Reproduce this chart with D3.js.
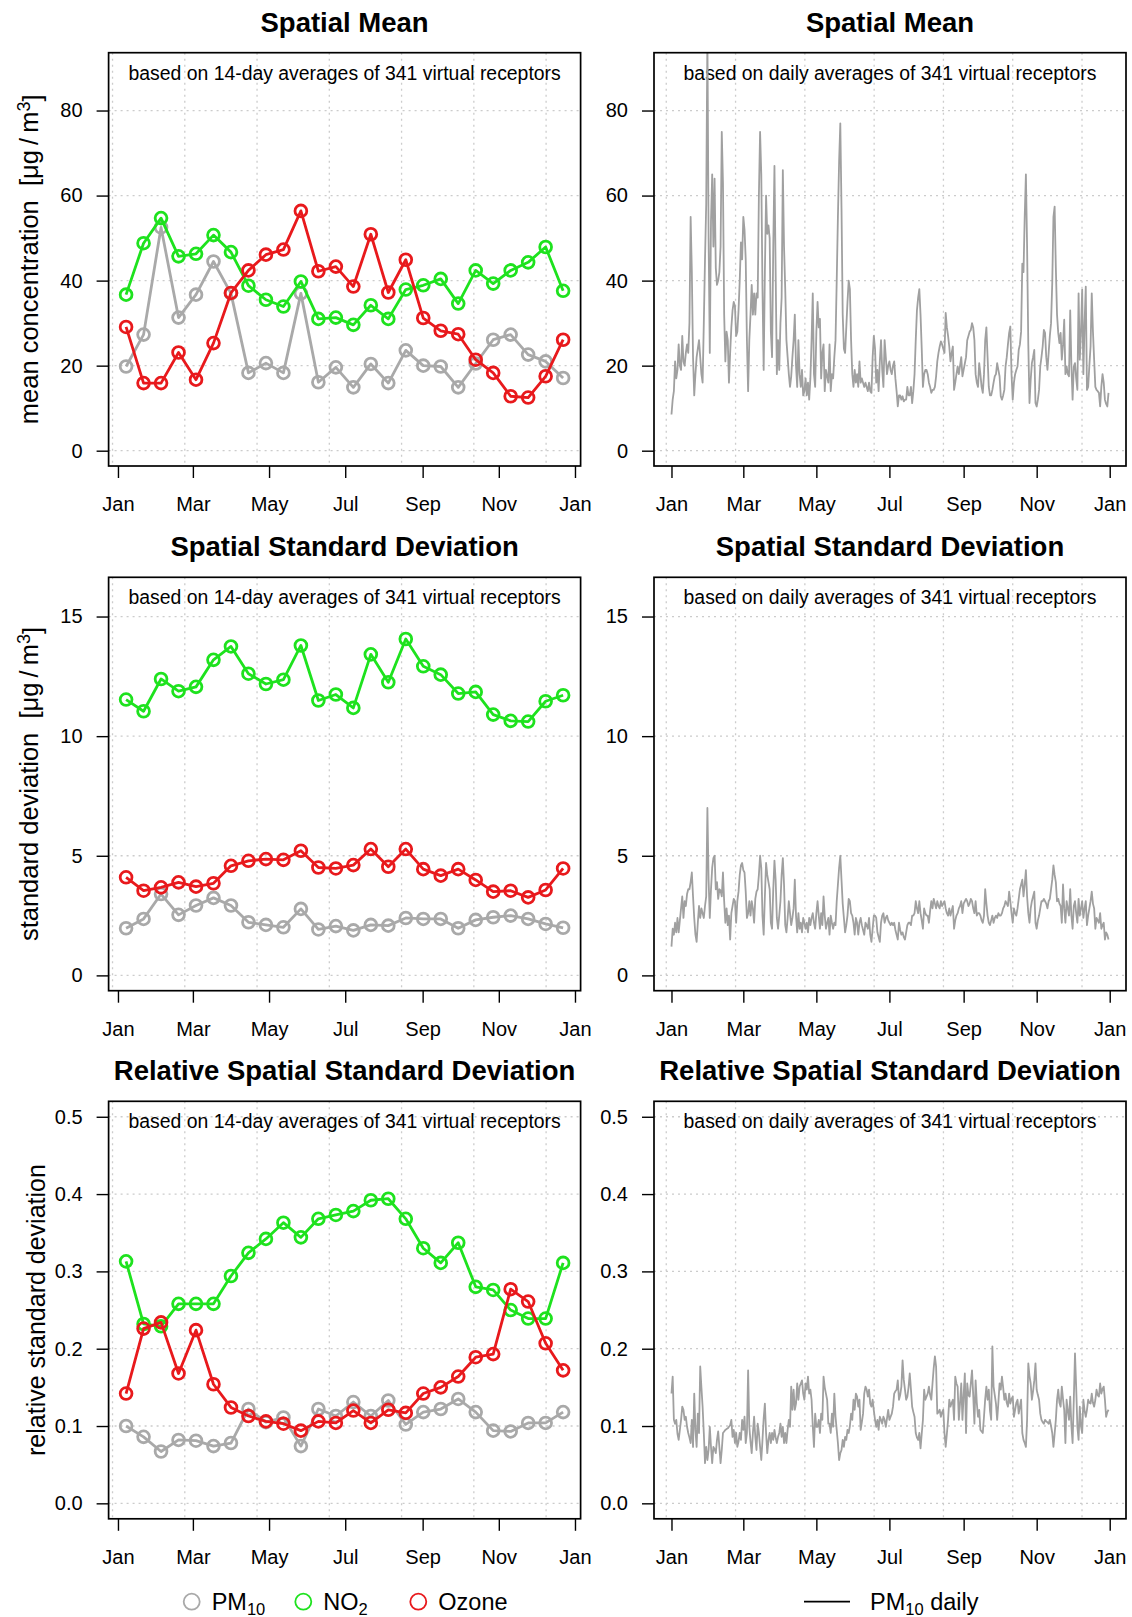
<!DOCTYPE html>
<html>
<head>
<meta charset="utf-8">
<script src="https://cdn.jsdelivr.net/npm/d3@7"></script>
<style>
  body { margin: 0; background: #fff; }
  svg text { font-family: "Liberation Sans", Arial, Helvetica, sans-serif; fill: #000; }
</style>
</head>
<body>
<svg id="chart" width="1132" height="1617"></svg>
<script>
// ---------------------------------------------------------------------------
// Data: 14-day averages (26 periods of 2012) and daily values for PM10
// ---------------------------------------------------------------------------
const YEAR = 2012;
const monthTickLabels = ["Jan", "Mar", "May", "Jul", "Sep", "Nov", "Jan"];
const seriesNames = ["PM10", "NO2", "Ozone"];

const meanTicks = [0, 20, 40, 60, 80];
const sdTicks = [0, 5, 10, 15];
const rsdTicks = [0, 0.1, 0.2, 0.3, 0.4, 0.5];

// spatial mean, 14-day averages
const pm10Mean14  = [19.8, 27.3, 52.5, 31.3, 36.7, 44.5, 37.0, 18.3, 20.6, 18.3, 37.0, 16.1, 19.6, 14.9, 20.4, 15.9, 23.6, 20.0, 19.8, 14.9, 20.5, 26.1, 27.3, 22.6, 21.0, 17.1];
const no2Mean14   = [36.7, 48.8, 54.7, 45.7, 46.3, 50.7, 46.7, 38.8, 35.5, 33.9, 39.8, 31.0, 31.3, 29.6, 34.2, 31.0, 37.9, 38.9, 40.4, 34.6, 42.4, 39.3, 42.4, 44.3, 47.9, 37.6];
const ozoneMean14 = [29.1, 15.9, 15.9, 23.1, 16.7, 25.3, 37.1, 42.4, 46.1, 47.3, 56.4, 42.2, 43.3, 38.6, 50.9, 37.2, 44.9, 31.2, 28.2, 27.4, 21.4, 18.3, 12.8, 12.5, 17.5, 26.1];

// spatial standard deviation, 14-day averages
const pm10Sd14  = [1.97, 2.36, 3.40, 2.53, 2.92, 3.24, 2.92, 2.22, 2.11, 2.01, 2.78, 1.92, 2.06, 1.88, 2.11, 2.08, 2.40, 2.36, 2.36, 1.97, 2.32, 2.43, 2.50, 2.36, 2.15, 1.99];
const no2Sd14   = [11.53, 11.04, 12.39, 11.88, 12.06, 13.19, 13.75, 12.61, 12.18, 12.36, 13.79, 11.49, 11.74, 11.18, 13.42, 12.25, 14.06, 12.92, 12.57, 11.78, 11.85, 10.90, 10.64, 10.61, 11.46, 11.71];
const ozoneSd14 = [4.10, 3.54, 3.68, 3.89, 3.71, 3.85, 4.58, 4.79, 4.86, 4.83, 5.21, 4.51, 4.47, 4.61, 5.28, 4.54, 5.28, 4.44, 4.17, 4.44, 3.99, 3.50, 3.54, 3.26, 3.57, 4.47];

// relative spatial standard deviation, 14-day averages
const pm10Rsd14  = [0.100, 0.086, 0.067, 0.082, 0.081, 0.074, 0.078, 0.122, 0.105, 0.111, 0.074, 0.122, 0.113, 0.131, 0.113, 0.133, 0.102, 0.118, 0.122, 0.135, 0.118, 0.094, 0.093, 0.104, 0.104, 0.118];
const no2Rsd14   = [0.313, 0.232, 0.229, 0.258, 0.258, 0.258, 0.294, 0.324, 0.342, 0.363, 0.344, 0.368, 0.373, 0.378, 0.392, 0.394, 0.368, 0.330, 0.311, 0.337, 0.280, 0.276, 0.250, 0.239, 0.239, 0.311];
const ozoneRsd14 = [0.142, 0.226, 0.234, 0.168, 0.224, 0.154, 0.124, 0.113, 0.106, 0.103, 0.094, 0.106, 0.104, 0.120, 0.104, 0.121, 0.117, 0.142, 0.150, 0.164, 0.189, 0.193, 0.277, 0.261, 0.207, 0.172];

// PM10 daily spatial mean, 1 Jan .. 31 Dec
const pm10MeanDaily = [
  8.5, 12, 14, 21, 17, 19, 25, 20, 19, 27,
  21, 20, 23, 25, 23, 30, 55, 42, 22, 13,
  18, 22, 24, 26, 22, 18, 16, 30, 45, 58,
  98, 50, 23, 54, 65, 48, 64, 43, 39, 40,
  42, 48, 75, 63, 32, 21, 28, 26, 16, 23,
  29, 33, 35, 34, 27, 28, 33, 40, 49, 45,
  55, 52, 45, 26, 14, 26, 32, 39, 32, 37,
  32, 37, 36, 60, 75, 65, 38, 19, 42, 60,
  51, 53, 50, 28, 22, 48, 67, 42, 18, 26,
  19, 30, 36, 66, 48, 38, 26, 22, 18, 15,
  17.5, 22, 26, 32, 20, 15, 26, 18, 15, 19,
  13, 14, 17, 13, 16, 12, 17, 26, 37, 18,
  15, 28, 35, 29, 31, 17, 23, 25, 14, 19,
  17.5, 16, 25, 14, 18, 17, 22, 26, 40, 55,
  68, 77, 57, 32, 24, 23, 29, 35, 40, 38,
  26, 18, 15, 19, 16, 18, 15, 21, 16, 17,
  16, 15, 16, 15, 14, 16, 14, 13.6, 22, 27,
  24, 16, 19, 14, 21, 26, 19, 15,
  26, 22, 18, 20, 21, 19, 18, 20, 21, 17,
  14, 10.4, 13, 13, 12, 12.8, 11.6, 12, 12, 15,
  13, 13, 15, 11.2, 14, 18, 26, 33, 36, 38,
  32, 24, 15, 18, 19, 19, 18, 16, 15, 13.6,
  14.3, 14.3, 15, 17.5, 21, 23, 24.5, 25.7, 25, 24,
  23, 32.4, 29, 27, 24.5, 21, 23, 24.5, 14.3, 16,
  18, 19.8, 18, 20, 22, 17.5, 19, 20.5, 22, 26,
  27, 28, 28.4, 30, 29, 26, 18, 16, 15, 20.6,
  18, 15, 13.6, 18, 26, 29, 22, 15, 13, 13,
  14.3, 16, 17.5, 18, 20.6, 19, 17.5, 12.8, 12, 13,
  14.3, 19.8, 22, 25, 27.7, 29.2, 18, 12, 16, 18,
  19, 19.8, 23.7, 25, 28, 44, 42, 55, 65, 48,
  25, 11.2, 16.7, 20.6, 22, 23.7, 11.2, 10.4, 12, 14.3,
  19.8, 22, 24.5, 28.4, 27.7, 22, 19, 23, 27, 30,
  39.4, 55, 57.4, 43, 32, 27.7, 25.3, 27.7, 21.4, 25,
  30.8, 18, 19.8, 18, 17.5, 33, 20, 12, 19.8, 20.6,
  17, 14.3, 37, 21.4, 28, 37.9, 18, 30, 38.6, 14.3,
  15, 20, 24.5, 37, 28, 21.4, 15, 14.3, 14, 13.6,
  10.4, 15, 18, 16, 12, 11, 10.4, 13.6
];

// PM10 daily spatial standard deviation
const pm10SdDaily = [
  1.2, 1.95, 1.7, 2.2, 1.8, 2.4, 1.8, 2.3, 2.8, 3.3,
  2.4, 3.1, 2.9, 3.4, 3.6, 3.6, 3.9, 4.3, 3.3, 2.4,
  1.7, 1.4, 2.2, 2.9, 2.4, 2.8, 2.6, 2.4, 2.9, 3.3,
  7.0, 4.0, 2.4, 3.6, 4.5, 4.9, 5.0, 3.6, 3.9, 3.2,
  3.6, 3.55, 3.3, 4.3, 3.1, 2.2, 2.8, 2.1, 2.5, 1.5,
  2.6, 2.9, 3.2, 3.1, 2.2, 3.1, 3.5, 4.2, 4.6, 4.7,
  4.4, 4.3, 3.5, 2.4, 2.6, 3.1, 2.5, 3.1, 2.8, 2.2,
  3.2, 3.5, 3.6, 4.2, 5.0, 4.5, 2.5, 1.7, 3.3, 4.7,
  4.2, 3.9, 3.6, 2.2, 1.95, 3.6, 4.8, 4.0, 2.4, 1.95,
  2.5, 3.1, 4.2, 4.9, 3.8, 2.1, 1.8, 2.4, 3.1, 2.6,
  2.1, 2.4, 2.8, 4.0, 2.5, 1.8, 2.6, 1.95, 2.2, 1.8,
  2.4, 2.2, 1.95, 2.2, 1.8, 2.4, 2.1, 2.4, 2.6, 2.2,
  1.95, 2.6, 3.1, 2.5, 1.95, 2.6, 2.1, 3.3, 2.5, 1.95,
  2.2, 2.4, 1.7, 2.5, 2.2, 1.95, 2.2, 2.1, 3.1, 3.8,
  4.5, 5.0, 4.0, 3.0, 2.4, 1.8, 2.1, 2.5, 3.2, 3.1,
  2.6, 2.5, 2.2, 1.7, 2.4, 2.2, 1.7, 2.2, 2.4, 2.1,
  1.9, 1.7, 2.2, 2.1, 1.95, 2.4, 1.7, 1.4, 1.95, 2.5,
  2.5, 2.4, 1.8, 1.6, 1.4, 2.2, 2.5, 2.6,
  2.2, 2.4, 2.5, 2.3, 2.2, 2.1, 2.2, 2.1, 2.2, 1.9,
  1.7, 1.5, 2.2, 1.9, 1.7, 1.8, 1.6, 1.5, 1.8, 2.1,
  2.2, 2.2, 2.1, 2.5, 2.5, 2.6, 3.1, 2.8, 2.6, 3.1,
  2.6, 2.3, 1.95, 2.8, 2.6, 2.5, 2.5, 2.2, 2.7, 3.1,
  2.8, 3.2, 3.0, 2.8, 3.1, 2.9, 2.8, 3.1, 2.9, 3.0,
  3.1, 2.8, 2.6, 2.5, 2.8, 2.5, 2.7, 2.9, 1.95, 2.3,
  2.5, 2.6, 2.8, 2.9, 3.1, 2.6, 3.0, 3.1, 3.2, 3.1,
  2.9, 3.0, 3.2, 3.1, 2.8, 2.6, 3.1, 2.5, 2.6, 2.6,
  2.5, 2.3, 2.2, 2.5, 3.6, 3.0, 2.5, 2.2, 2.1, 2.3,
  2.5, 2.2, 2.4, 2.5, 2.4, 2.6, 2.5, 2.5, 2.6, 2.8,
  2.9, 3.1, 3.0, 2.9, 3.5, 3.1, 2.6, 2.2, 2.8, 2.6,
  2.5, 2.8, 3.2, 3.6, 3.8, 4.0, 3.3, 3.8, 4.4, 3.3,
  2.6, 2.2, 2.8, 3.1, 3.3, 3.5, 2.2, 1.95, 2.3, 2.5,
  2.8, 3.1, 3.1, 3.2, 3.1, 3.0, 2.8, 3.1, 3.2, 3.6,
  4.0, 4.6, 4.2, 3.9, 3.1, 3.2, 3.0, 2.9, 2.2, 3.8,
  2.8, 2.2, 3.1, 2.8, 2.5, 3.6, 2.5, 1.95, 2.9, 3.1,
  2.6, 2.2, 3.2, 2.5, 2.8, 3.1, 2.4, 2.8, 3.1, 2.1,
  2.5, 2.8, 3.1, 3.5, 3.0, 2.8, 1.95, 2.4, 2.3, 2.2,
  2.6, 1.95, 2.1, 2.2, 1.5, 1.8, 1.7, 1.5
];

// PM10 daily relative spatial standard deviation
const pm10RsdDaily = [
  0.142, 0.164, 0.108, 0.103, 0.108, 0.090, 0.082, 0.095, 0.108, 0.125,
  0.121, 0.108, 0.112, 0.099, 0.091, 0.085, 0.078, 0.108, 0.073, 0.142,
  0.095, 0.073, 0.116, 0.091, 0.177, 0.150, 0.125, 0.091, 0.052, 0.073,
  0.056, 0.069, 0.099, 0.073, 0.052, 0.073, 0.070, 0.065, 0.082, 0.093,
  0.073, 0.052, 0.069, 0.091, 0.093, 0.095, 0.096, 0.097, 0.099, 0.101,
  0.108, 0.086, 0.095, 0.078, 0.091, 0.073, 0.080, 0.091, 0.082, 0.108,
  0.095, 0.112, 0.078, 0.091, 0.172, 0.099, 0.080, 0.065, 0.091, 0.112,
  0.086, 0.069, 0.103, 0.091, 0.073, 0.056, 0.082, 0.110, 0.129, 0.091,
  0.065, 0.082, 0.091, 0.078, 0.091, 0.082, 0.095, 0.085, 0.078, 0.086,
  0.091, 0.103, 0.086, 0.099, 0.078, 0.091, 0.078, 0.095, 0.108, 0.099,
  0.151, 0.121, 0.147, 0.121, 0.129, 0.155, 0.134, 0.151, 0.155, 0.159,
  0.142, 0.134, 0.155, 0.147, 0.164, 0.142, 0.147, 0.134, 0.100, 0.073,
  0.116, 0.099, 0.099, 0.108, 0.091, 0.116, 0.108, 0.164, 0.150, 0.142,
  0.134, 0.103, 0.103, 0.091, 0.116, 0.099, 0.142, 0.112, 0.095, 0.078,
  0.056, 0.065, 0.069, 0.082, 0.073, 0.086, 0.082, 0.095, 0.091, 0.100,
  0.116, 0.108, 0.134, 0.121, 0.142, 0.138, 0.125, 0.134, 0.095, 0.105,
  0.116, 0.142, 0.151, 0.147, 0.138, 0.147, 0.129, 0.125, 0.134, 0.120,
  0.108, 0.099, 0.108, 0.095, 0.112, 0.108, 0.103, 0.112,
  0.108, 0.099, 0.110, 0.121, 0.108, 0.112, 0.116, 0.125, 0.142, 0.145,
  0.147, 0.159, 0.134, 0.140, 0.151, 0.185, 0.160, 0.147, 0.134, 0.138,
  0.150, 0.168, 0.147, 0.125, 0.118, 0.112, 0.091, 0.085, 0.082, 0.091,
  0.071, 0.090, 0.108, 0.147, 0.134, 0.138, 0.142, 0.151, 0.140, 0.134,
  0.155, 0.175, 0.190, 0.177, 0.116, 0.118, 0.121, 0.112, 0.118, 0.121,
  0.091, 0.073, 0.090, 0.108, 0.134, 0.125, 0.130, 0.134, 0.108, 0.164,
  0.155, 0.151, 0.108, 0.130, 0.155, 0.108, 0.140, 0.168, 0.091, 0.155,
  0.140, 0.138, 0.155, 0.172, 0.140, 0.103, 0.159, 0.130, 0.112, 0.121,
  0.095, 0.093, 0.091, 0.112, 0.135, 0.151, 0.134, 0.147, 0.120, 0.108,
  0.203, 0.151, 0.140, 0.129, 0.108, 0.130, 0.155, 0.147, 0.164, 0.150,
  0.134, 0.142, 0.130, 0.125, 0.142, 0.129, 0.135, 0.138, 0.112, 0.121,
  0.130, 0.134, 0.116, 0.125, 0.134, 0.091, 0.082, 0.078, 0.073, 0.108,
  0.181, 0.165, 0.155, 0.134, 0.145, 0.159, 0.181, 0.147, 0.140, 0.134,
  0.116, 0.108, 0.105, 0.103, 0.108, 0.106, 0.105, 0.103, 0.108, 0.100,
  0.091, 0.073, 0.090, 0.108, 0.134, 0.147, 0.130, 0.125, 0.151, 0.135,
  0.121, 0.078, 0.134, 0.120, 0.108, 0.138, 0.100, 0.078, 0.134, 0.194,
  0.150, 0.099, 0.082, 0.125, 0.100, 0.091, 0.134, 0.120, 0.112, 0.121,
  0.134, 0.130, 0.129, 0.142, 0.130, 0.125, 0.134, 0.147, 0.140, 0.138,
  0.155, 0.142, 0.148, 0.151, 0.134, 0.112, 0.118, 0.121
];

// ---------------------------------------------------------------------------
// Layout and styles
// ---------------------------------------------------------------------------
const colors = { PM10: "#a9a9a9", NO2: "#1ee21e", Ozone: "#e8191c" };
const dailyColor = "#a0a0a0";
const gridColor = "#cccccc";

const leftBox = { x0: 108.6, x1: 580.6 };
const rightBox = { x0: 654, x1: 1126 };

const DAY = 864e5;
const yearStart = Date.UTC(YEAR, 0, 1);
const periodDates = d3.range(pm10Mean14.length).map(k => new Date(yearStart + (14 * k + 6.5) * DAY));
const dailyDates = d3.range(pm10MeanDaily.length).map(i => new Date(yearStart + i * DAY));
const monthTickDates = monthTickLabels.map((m, i) => new Date(Date.UTC(YEAR, 2 * i, 1)));

// R-style axis range: data extent widened by 4% on each side
function padded(ext) {
  const a = +ext[0], b = +ext[1], d = (b - a) * 0.04;
  return [a - d, b + d];
}

const rows = [
  { title: "Spatial Mean", top: 52.7, bottom: 466, ymax: 90, ticks: meanTicks, fmt: d3.format("d"),
    series: [pm10Mean14, no2Mean14, ozoneMean14], daily: pm10MeanDaily,
    ylab: "mean concentration", unit: true, ylabX: 38 },
  { title: "Spatial Standard Deviation", top: 577.3, bottom: 990.7, ymax: 16, ticks: sdTicks, fmt: d3.format("d"),
    series: [pm10Sd14, no2Sd14, ozoneSd14], daily: pm10SdDaily,
    ylab: "standard deviation", unit: true, ylabX: 38 },
  { title: "Relative Spatial Standard Deviation", top: 1101.3, bottom: 1518.8, ymax: 0.5, ticks: rsdTicks, fmt: d3.format(".1f"),
    series: [pm10Rsd14, no2Rsd14, ozoneRsd14], daily: pm10RsdDaily,
    ylab: "relative standard deviation", unit: false, ylabX: 45 }
];

const svg = d3.select("#chart");
const defs = svg.append("defs");

// Vertical grid positions: pretty breaks every 5e6 seconds of the time axis
function gridTimes(domain) {
  const step = 5e9;
  const out = [];
  for (let t = Math.ceil(+domain[0] / step) * step; t <= +domain[1]; t += step) out.push(new Date(t));
  return out;
}

function drawPanel(row, box, kind, idx) {
  const g = svg.append("g");
  const x = d3.scaleUtc()
    .domain(padded(d3.extent(kind === "period" ? periodDates : dailyDates)))
    .range([box.x0, box.x1]);
  const y = d3.scaleLinear()
    .domain([-0.04 * row.ymax, row.ymax * 1.04])
    .range([row.bottom, row.top]);

  const clipId = "clip" + idx;
  defs.append("clipPath").attr("id", clipId)
    .append("rect")
    .attr("x", box.x0).attr("y", row.top)
    .attr("width", box.x1 - box.x0).attr("height", row.bottom - row.top);

  // dotted grid
  const grid = g.append("g").attr("stroke", gridColor).attr("stroke-width", 1.3)
    .attr("stroke-dasharray", "2,4").attr("fill", "none");
  gridTimes(x.domain()).forEach(t => {
    grid.append("line").attr("x1", x(t)).attr("x2", x(t)).attr("y1", row.top).attr("y2", row.bottom);
  });
  row.ticks.forEach(v => {
    grid.append("line").attr("x1", box.x0).attr("x2", box.x1).attr("y1", y(v)).attr("y2", y(v));
  });

  // subtitle
  g.append("text")
    .attr("x", (box.x0 + box.x1) / 2).attr("y", row.top + 27)
    .attr("text-anchor", "middle").attr("font-size", 19.4)
    .text(kind === "period"
      ? "based on 14-day averages of 341 virtual receptors"
      : "based on daily averages of 341 virtual receptors");

  const plot = g.append("g").attr("clip-path", `url(#${clipId})`);

  if (kind === "period") {
    row.series.forEach((vals, s) => {
      const col = colors[seriesNames[s]];
      const pts = vals.map((v, i) => [periodDates[i], v]);
      plot.append("path")
        .attr("d", d3.line().x(d => x(d[0])).y(d => y(d[1]))(pts))
        .attr("fill", "none").attr("stroke", col).attr("stroke-width", 2.8)
        .attr("stroke-linejoin", "round");
      plot.append("g").selectAll("circle").data(pts).join("circle")
        .attr("cx", d => x(d[0])).attr("cy", d => y(d[1])).attr("r", 5.9)
        .attr("fill", "none").attr("stroke", col).attr("stroke-width", 2.8);
    });
  } else {
    const pts = row.daily.map((v, i) => [dailyDates[i], v]);
    plot.append("path")
      .attr("d", d3.line().x(d => x(d[0])).y(d => y(d[1]))(pts))
      .attr("fill", "none").attr("stroke", dailyColor).attr("stroke-width", 1.8)
      .attr("stroke-linejoin", "round");
  }

  // axes
  const xAxis = d3.axisBottom(x).tickValues(monthTickDates)
    .tickFormat((d, i) => monthTickLabels[i]).tickSize(12).tickPadding(19).tickSizeOuter(0);
  const gx = g.append("g").attr("transform", `translate(0,${row.bottom})`).call(xAxis);
  gx.select(".domain").remove();
  gx.selectAll("line").attr("stroke", "#000").attr("stroke-width", 1.4);
  gx.selectAll("text").attr("font-size", 20).attr("fill", "#000")
    .attr("font-family", '"Liberation Sans", Arial, sans-serif');

  const yAxis = d3.axisLeft(y).tickValues(row.ticks).tickFormat(row.fmt)
    .tickSize(12).tickPadding(14).tickSizeOuter(0);
  const gy = g.append("g").attr("transform", `translate(${box.x0},0)`).call(yAxis);
  gy.select(".domain").remove();
  gy.selectAll("line").attr("stroke", "#000").attr("stroke-width", 1.4);
  gy.selectAll("text").attr("font-size", 20).attr("fill", "#000")
    .attr("font-family", '"Liberation Sans", Arial, sans-serif');

  // frame
  g.append("rect")
    .attr("x", box.x0).attr("y", row.top)
    .attr("width", box.x1 - box.x0).attr("height", row.bottom - row.top)
    .attr("fill", "none").attr("stroke", "#000").attr("stroke-width", 1.7);

  // title
  g.append("text")
    .attr("x", (box.x0 + box.x1) / 2).attr("y", row.top - 21)
    .attr("text-anchor", "middle").attr("font-size", 27.5).attr("font-weight", "bold")
    .text(row.title);
}

rows.forEach((row, r) => {
  drawPanel(row, leftBox, "period", r * 2);
  drawPanel(row, rightBox, "daily", r * 2 + 1);

  // y-axis label of the left column
  const cy = (row.top + row.bottom) / 2;
  const lab = svg.append("text")
    .attr("transform", `translate(${row.ylabX},${cy}) rotate(-90)`)
    .attr("text-anchor", "middle").attr("font-size", row.unit ? 25.5 : 25);
  lab.append("tspan").text(row.ylab);
  if (row.unit) {
    lab.append("tspan").text("\u00a0\u00a0[\u03bcg\u2009/\u2009m");
    lab.append("tspan").attr("dy", "-0.45em").attr("font-size", 18).text("3");
    lab.append("tspan").attr("dy", "0.45em").text("]");
  }
});

// ---------------------------------------------------------------------------
// Legends
// ---------------------------------------------------------------------------
const legY = 1601.7;
const legend = svg.append("g");
const legendItems = [
  { name: seriesNames[0], cx: 191.7, main: "PM", sub: "10" },
  { name: seriesNames[1], cx: 303.3, main: "NO", sub: "2" },
  { name: seriesNames[2], cx: 418.3, main: "Ozone", sub: null }
];
legendItems.forEach(it => {
  legend.append("circle").attr("cx", it.cx).attr("cy", legY).attr("r", 8)
    .attr("fill", "none").attr("stroke", colors[it.name]).attr("stroke-width", 1.8);
  const t = legend.append("text").attr("x", it.cx + 20).attr("y", legY + 8.4).attr("font-size", 23.5);
  t.append("tspan").text(it.main);
  if (it.sub) t.append("tspan").attr("dy", 5).attr("font-size", 16.5).text(it.sub);
});

legend.append("line").attr("x1", 804).attr("x2", 850).attr("y1", legY).attr("y2", legY)
  .attr("stroke", "#000").attr("stroke-width", 1.8);
const dl = legend.append("text").attr("x", 870).attr("y", legY + 8.4).attr("font-size", 23.5);
dl.append("tspan").text("PM");
dl.append("tspan").attr("dy", 5).attr("font-size", 16.5).text("10");
dl.append("tspan").attr("dy", -5).text("\u00a0daily");
</script>
</body>
</html>
